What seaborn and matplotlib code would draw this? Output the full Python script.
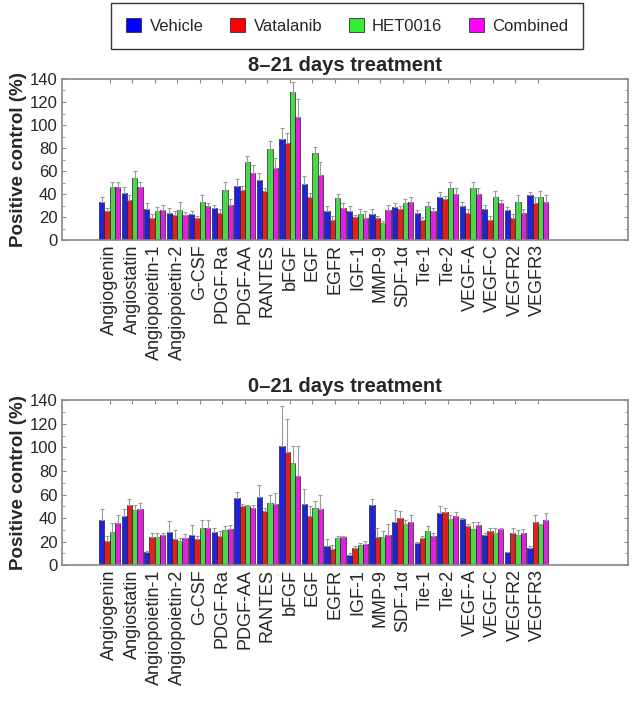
import matplotlib

matplotlib.use("Agg")
import matplotlib.pyplot as plt
import numpy as np
import pandas as pd
import seaborn as sns
from matplotlib.patches import Patch
from matplotlib.ticker import MultipleLocator

# Data
CYTOKINES = [
    "Angiogenin", "Angiostatin", "Angiopoietin-1", "Angiopoietin-2", "G-CSF",
    "PDGF-Ra", "PDGF-AA", "RANTES", "bFGF", "EGF", "EGFR", "IGF-1", "MMP-9",
    "SDF-1α", "Tie-1", "Tie-2", "VEGF-A", "VEGF-C", "VEGFR2", "VEGFR3",
]
TREATMENTS = ["Vehicle", "Vatalanib", "HET0016", "Combined"]
COLORS = ["#0000FF", "#FF0000", "#33EE33", "#FF00FF"]

# 8-21 days treatment
late_vehicle = [33, 41, 27, 24, 23, 28, 47, 52, 88, 49, 25, 25, 23, 29, 24, 38, 30, 27, 26, 39]
late_vatalanib = [25, 35, 19, 22, 19, 24, 44, 43, 84, 38, 18, 20, 19, 27, 18, 36, 24, 18, 19, 32]
late_het = [46, 54, 25, 26, 33, 44, 68, 79, 129, 76, 37, 23, 15, 32, 30, 45, 45, 38, 33, 38]
late_combined = [46, 46, 26, 22, 30, 31, 58, 63, 107, 57, 28, 19, 26, 33, 25, 40, 40, 32, 24, 33]
late_vehicle_err = [5, 5, 5, 4, 2, 3, 6, 6, 9, 7, 5, 5, 4, 3, 2.5, 4, 3.5, 3.5, 3, 2.5]
late_vatalanib_err = [3, 4, 4, 3, 2, 3, 3, 2, 9, 3, 3, 2, 2, 3, 2, 2.5, 3, 3, 3.5, 5.5]
late_het_err = [5, 6, 4, 7, 6, 7, 5.5, 7, 8, 5, 3, 4.5, 1.5, 4, 3.5, 6, 6, 4.5, 6, 5]
late_combined_err = [5, 5, 4.5, 2.5, 2, 5, 7, 8, 16, 11, 4, 6, 5, 5, 3, 5.5, 5, 3, 3.5, 6]

# 0-21 days treatment
full_vehicle = [38, 42, 11.5, 28, 26, 28, 57, 58, 101, 52, 16, 9, 51, 37, 19, 44, 39, 26, 11, 15]
full_vatalanib = [21, 51, 24, 22, 22, 25, 50, 46, 96, 42, 14, 15, 24, 40, 23, 45, 33, 29, 27, 37]
full_het = [28, 47, 24, 21, 32, 30, 50, 53, 87, 49, 23, 17, 24, 35, 29, 39, 31, 27, 26, 34]
full_combined = [36, 48, 26, 23, 32, 31, 49, 52, 76, 48, 24, 18, 26, 37, 25, 42, 34, 31, 27, 38]
full_vehicle_err = [10, 6, 0.5, 9.5, 8, 4, 5.5, 10, 34, 13, 6, 1, 5, 10, 1, 6, 1, 1.5, 0.5, 1.5]
full_vatalanib_err = [4, 5.5, 3, 7.5, 2.5, 4, 2, 2.5, 28, 8, 3, 1.5, 7.5, 6, 2, 3.5, 2, 3, 5, 6]
full_het_err = [8, 4, 3, 2.5, 6, 3, 1.5, 6.5, 14, 5.5, 1.5, 2, 5, 3, 4, 4, 6, 5, 4, 1]
full_combined_err = [7, 4.5, 1, 3.5, 6, 3, 2, 9, 25, 12, 1, 2.5, 9, 6, 2, 3, 3, 1, 3.5, 6.5]

PANELS = [
    (
        "8–21 days treatment",
        [late_vehicle, late_vatalanib, late_het, late_combined],
        [late_vehicle_err, late_vatalanib_err, late_het_err, late_combined_err],
    ),
    (
        "0–21 days treatment",
        [full_vehicle, full_vatalanib, full_het, full_combined],
        [full_vehicle_err, full_vatalanib_err, full_het_err, full_combined_err],
    ),
]


def make_frame(values, errors):
    rows = []
    for treatment, vals, errs in zip(TREATMENTS, values, errors):
        for cytokine, v, e in zip(CYTOKINES, vals, errs):
            rows.append({"Cytokine": cytokine, "Treatment": treatment, "Value": v, "Error": e})
    return pd.DataFrame(rows)


def main():
    sns.set_style("white")
    plt.rcParams["font.family"] = ["Liberation Sans", "DejaVu Sans"]

    fig = plt.figure(figsize=(6.35, 7.11), dpi=100)
    boxes = [
        [0.098, 0.662, 0.891, 0.227],
        [0.098, 0.205, 0.891, 0.232],
    ]
    frame_color = "#888888"

    for box, (title, values, errors) in zip(boxes, PANELS):
        ax = fig.add_axes(box)
        data = make_frame(values, errors)
        sns.barplot(
            data=data,
            x="Cytokine",
            y="Value",
            hue="Treatment",
            hue_order=TREATMENTS,
            palette=COLORS,
            errorbar=None,
            width=0.94,
            edgecolor="#222222",
            linewidth=0.5,
            legend=False,
            ax=ax,
        )
        for container, errs in zip(ax.containers, errors):
            xs = [bar.get_x() + bar.get_width() / 2 for bar in container]
            hs = [bar.get_height() for bar in container]
            ax.errorbar(
                xs, hs, yerr=[np.zeros(len(errs)), errs], fmt="none",
                ecolor="#9a9a9a", elinewidth=0.8, capsize=1.3, capthick=0.8, zorder=1,
            )

        ax.set_xlim(-2.1, 23.0)
        ax.set_ylim(0, 140)
        ax.yaxis.set_major_locator(MultipleLocator(20))
        ax.yaxis.set_minor_locator(MultipleLocator(10))
        ax.set_title(title, fontsize=14.5, fontweight="bold", pad=6)
        ax.set_xlabel("")
        ax.set_ylabel("Positive control (%)", fontsize=13.5, fontweight="bold", labelpad=2)
        ax.tick_params(axis="x", labelrotation=90, labelsize=13, bottom=False,
                       top=True, direction="in", length=3, color=frame_color, pad=3)
        ax.tick_params(axis="y", which="both", labelsize=12, left=True, right=True,
                       direction="in", color=frame_color)
        ax.tick_params(axis="y", which="major", length=3)
        ax.tick_params(axis="y", which="minor", length=2)
        for spine in ax.spines.values():
            spine.set_visible(True)
            spine.set_color(frame_color)
            spine.set_linewidth(1.2)

    handles = [Patch(facecolor=c, edgecolor="#333333", linewidth=0.6) for c in COLORS]
    legend = fig.legend(
        handles, TREATMENTS, loc="center", bbox_to_anchor=(0.547, 0.963), ncol=4,
        frameon=True, fancybox=False, edgecolor="black", fontsize=12,
        handlelength=0.9, handleheight=0.9, handletextpad=0.5, columnspacing=1.6,
        borderpad=0.9,
    )
    legend.get_frame().set_linewidth(1.0)

    fig.savefig("out.png", dpi=100)


if __name__ == "__main__":
    main()
